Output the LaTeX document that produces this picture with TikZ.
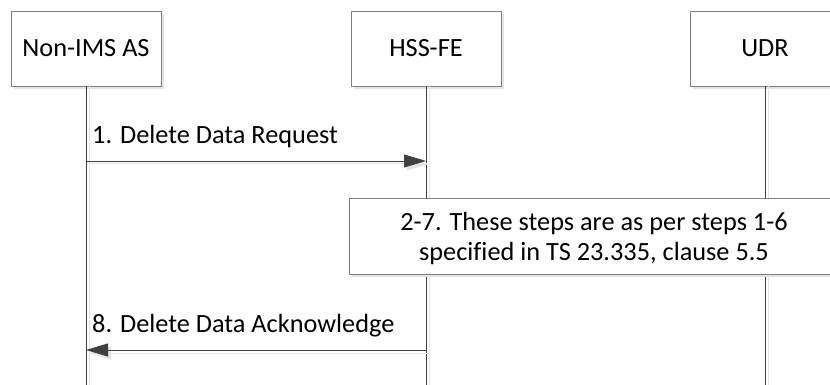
\documentclass[tikz,border=0pt]{standalone}
\usepackage{fontspec}
\setmainfont{Carlito}[Ligatures=NoCommon]
\usetikzlibrary{arrows.meta,shadows}
\definecolor{linegray}{HTML}{404040}
\definecolor{boxgray}{HTML}{808080}
\definecolor{shadowgray}{HTML}{E4E4E4}

\begin{document}
\begin{tikzpicture}[x=1pt,y=-1pt,
  txt/.style={font=\fontsize{26.3}{30.5}\selectfont, text=black},
  entity/.style={txt, draw=boxgray, line width=0.9pt, fill=white,
    minimum width=150pt, minimum height=75pt, inner sep=0pt,
    drop shadow={shadow xshift=3pt, shadow yshift=-3pt, fill=shadowgray, opacity=1}},
  stepbox/.style={entity, minimum width=490pt, minimum height=76pt},
  steptext/.style={txt, align=center, inner sep=0pt},
  lifeline/.style={draw=linegray, line width=0.8pt},
  lifeshadow/.style={draw=shadowgray, line width=1pt},
  msg/.style={draw=linegray, line width=0.9pt,
    -{Triangle[length=22pt, width=13pt, fill=linegray]}},
  msgshadow/.style={draw=shadowgray, line width=1pt,
    -{Triangle[length=22pt, width=13pt, fill=shadowgray]}},
  lbl/.style={txt, anchor=base west, inner sep=0pt}
]
\useasboundingbox (0,0) rectangle (830,385);
\clip (0,0) rectangle (830,385);

% participants
\node[entity] (nas) at (86,48.5) {Non-IMS AS};
\node[entity] (hss) at (426,48.5) {HSS-FE};
\node[entity] (udr) at (765,48.5) {UDR};

% lifeline ends
\coordinate (nasend) at (nas.south |- 0,385);
\coordinate (hssend) at (hss.south |- 0,385);
\coordinate (udrend) at (udr.south |- 0,385);

% lifelines with their faint shadows
\foreach \p in {nas,hss,udr}{
  \draw[lifeshadow] ([xshift=3pt]\p.south) -- ([xshift=3pt]\p end);
  \draw[lifeline] (\p.south) -- (\p end);
}

% message 1
\coordinate (m1a) at (nas.south |- 0,161);
\coordinate (m1b) at (hss.south |- 0,161);
\draw[msgshadow] ([shift={(3pt,-3pt)}]m1a) -- ([shift={(3pt,-3pt)}]m1b);
\draw[msg] (m1a) -- (m1b);
\node[lbl] (l1) at (92,143) {1. Delete Data Request};

% steps 2-7: frame, then its two lines of text
\node[stepbox] (steps) at (594,236) {};
\node[steptext] (stepstxt) at ([yshift=-2.5pt]steps.center)
  {2-7. These steps are as per steps 1-6\\specified in TS 23.335, clause 5.5};

% message 8
\coordinate (m8a) at (hss.south |- 0,350);
\coordinate (m8b) at (nas.south |- 0,350);
\draw[msgshadow] ([shift={(3pt,-3pt)}]m8a) -- ([shift={(3pt,-3pt)}]m8b);
\draw[msg] (m8a) -- (m8b);
\node[lbl] (l8) at (92,332) {8. Delete Data Acknowledge};
\end{tikzpicture}
\end{document}
